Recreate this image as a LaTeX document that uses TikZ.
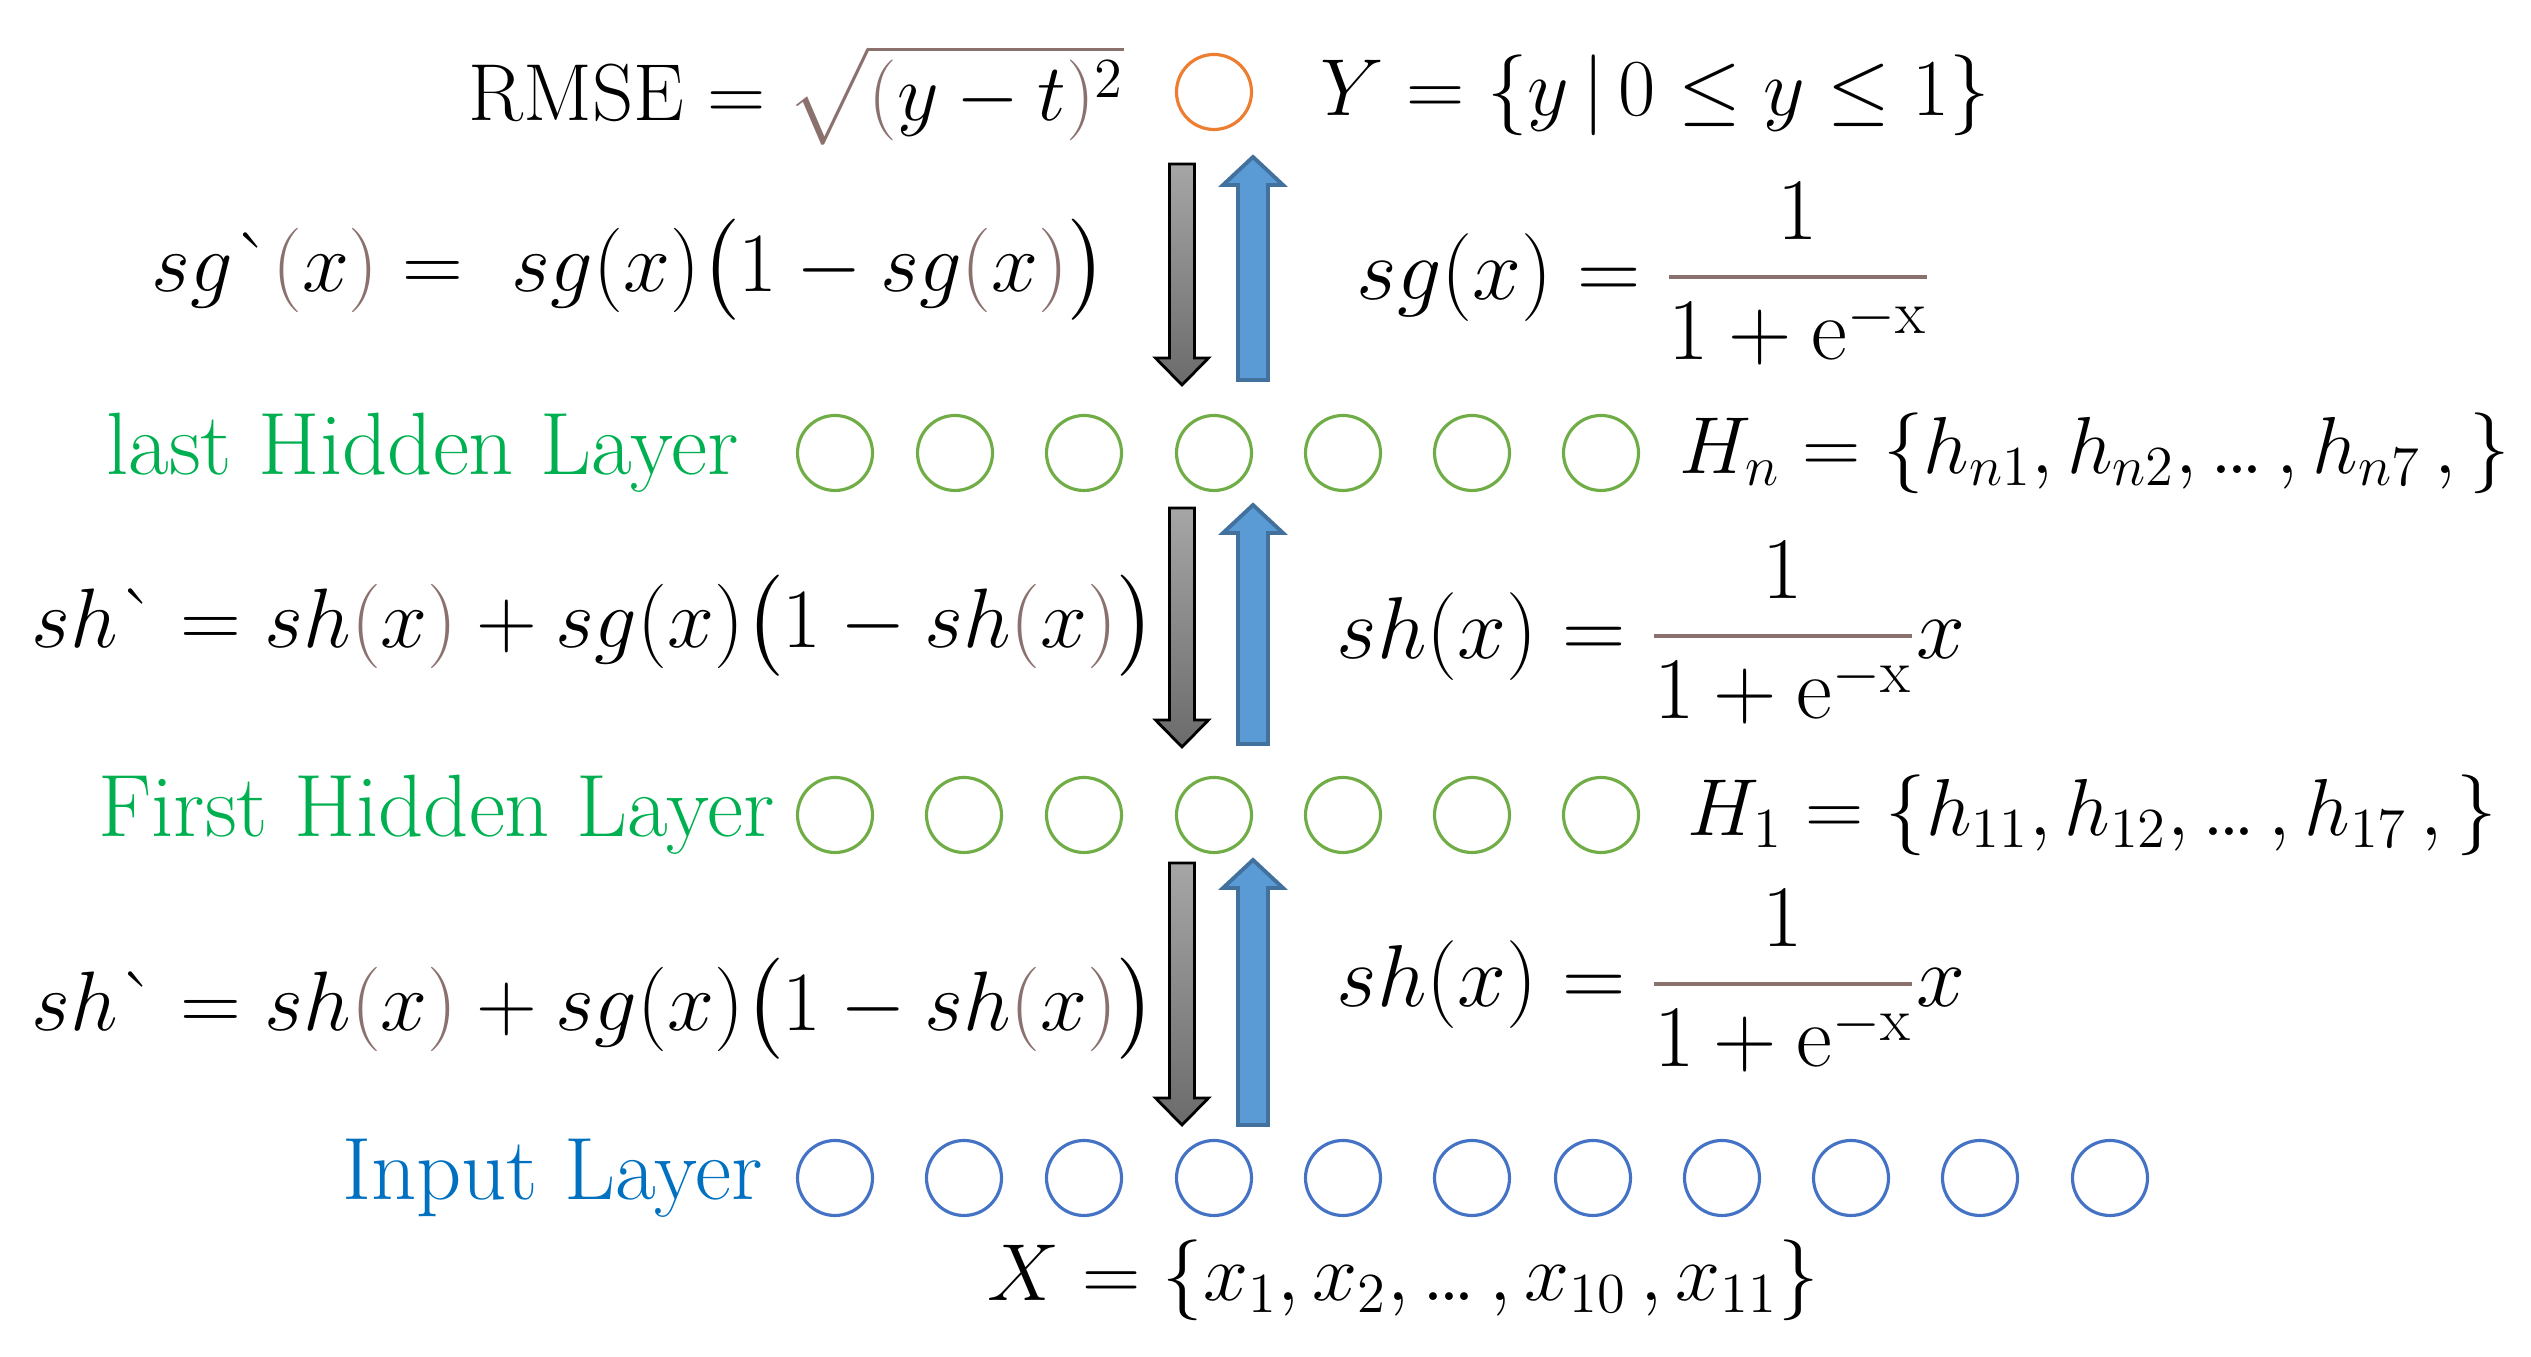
\RequirePackage{fix-cm}
\documentclass[tikz,border=0pt]{standalone}
\usepackage{amsmath,amssymb}
\usepackage{tikz}
\usepackage{xcolor}
\definecolor{brownish}{HTML}{8B716D}
\definecolor{layergreen}{HTML}{00B050}
\definecolor{layerblue}{HTML}{0070C0}
\definecolor{ringgreen}{HTML}{70AD47}
\definecolor{ringblue}{HTML}{4472C4}
\definecolor{ringorange}{HTML}{ED7D31}
\definecolor{arrowblue}{HTML}{5B9BD5}
\definecolor{arrowblueline}{HTML}{41719C}
\newcommand{\bp}[1]{\textcolor{brownish}{(}#1\textcolor{brownish}{)}}
\newcommand{\gv}{\mbox{\`{}}}
\newcommand{\tdots}{\mathinner{.\kern-0.08em.\kern-0.08em.}}
\newcommand{\frc}[2]{\textcolor{brownish}{\dfrac{\textcolor{black}{#1}}{\textcolor{black}{#2}}}}
\tikzset{
  neuron/.style={circle,draw,line width=0.9pt,minimum size=0.75cm,inner sep=0pt},
  formula/.style={font=\fontsize{23}{28}\selectfont,inner sep=0pt},
  bigformula/.style={font=\fontsize{24}{29}\selectfont,inner sep=0pt,anchor=east},
  fracformula/.style={font=\fontsize{25}{30}\selectfont,inner sep=0pt,anchor=west},
  layertext/.style={font=\fontsize{25.2}{30}\selectfont,inner sep=0pt,anchor=east},
}

\begin{document}
\begin{tikzpicture}[x=1cm,y=1cm]
    \path[use as bounding box] (0,0) rectangle (25.31,13.57);
    % output
    \node[neuron,draw=ringorange] (out) at (12.14,12.65) {};
    \node[formula,anchor=east] (rmse) at (11.25,12.62)
      {$\mathrm{RMSE} = \textcolor{brownish}{\sqrt{(\textcolor{black}{y-t})^{\textcolor{black}{2}}}}$};
    \node[formula,anchor=west] (yset) at (13.20,12.62)
      {$Y = \{y \,|\, 0 \leq y \leq 1\}$};
    % last hidden layer
    \foreach \x [count=\i] in {8.35,9.55,10.84,12.14,13.43,14.72,16.01}
      \node[neuron,draw=ringgreen] (hn\i) at (\x,9.04) {};
    \node[layertext,text=layergreen] (lastlbl) at (7.39,9.04) {last Hidden Layer};
    \node[formula,anchor=west] (hnset) at (16.79,9.04)
      {$H_n = \{h_{n1}, h_{n2}, \tdots, h_{n7}\,,\}$};
    % first hidden layer
    \foreach \x [count=\i] in {8.35,9.64,10.84,12.14,13.43,14.72,16.01}
      \node[neuron,draw=ringgreen] (ha\i) at (\x,5.42) {};
    \node[layertext,text=layergreen] (firstlbl) at (7.75,5.42) {First Hidden Layer};
    \node[formula,anchor=west] (haset) at (16.87,5.42)
      {$H_1 = \{h_{11}, h_{12}, \tdots, h_{17}\,,\}$};
    % input layer
    \foreach \x [count=\i] in {8.35,9.64,10.84,12.14,13.43,14.72,15.93,17.22,18.51,19.80,21.10}
      \node[neuron,draw=ringblue] (in\i) at (\x,1.79) {};
    \node[layertext,text=layerblue] (inlbl) at (7.63,1.79) {Input Layer};
    \node[formula] (xset) at (14.03,0.77)
      {$X = \{x_1, x_2, \tdots, x_{10}\,, x_{11}\}$};
    % arrows between layers
    \foreach \gt/\gb/\bt/\bb in {11.93/9.72/12.00/9.77, 8.49/6.10/8.52/6.13, 4.94/2.32/4.97/2.32} {
      \draw[line width=0.8pt,draw=black,top color=black!35,bottom color=black!58]
        (11.695,\gt) -- (11.945,\gt) -- (11.945,{\gb+0.27}) -- (12.085,{\gb+0.27})
        -- (11.82,\gb) -- (11.555,{\gb+0.27}) -- (11.695,{\gb+0.27}) -- cycle;
      \draw[line width=1.1pt,draw=arrowblueline,fill=arrowblue]
        (12.38,\bb) -- (12.68,\bb) -- (12.68,{\bt-0.28}) -- (12.83,{\bt-0.28})
        -- (12.53,\bt) -- (12.23,{\bt-0.28}) -- (12.38,{\bt-0.28}) -- cycle;
    }
    % formulas
    \node[bigformula] (dsg) at (11.08,10.87)
      {$sg\gv\bp{x} = \ sg(x)\bigl(1 - sg\bp{x}\bigr)$};
    \node[fracformula] (sg) at (13.56,10.83)
      {$sg(x) = \frc{1}{1+\mathrm{e}^{-\mathrm{x}}}$};
    \node[bigformula] (dsha) at (11.57,7.31)
      {$sh\gv = sh\bp{x} + sg(x)\bigl(1 - sh\bp{x}\bigr)$};
    \node[fracformula] (sha) at (13.36,7.24)
      {$sh(x) = \frc{1}{1+\mathrm{e}^{-\mathrm{x}}}x$};
    \node[bigformula] (dshb) at (11.57,3.48)
      {$sh\gv = sh\bp{x} + sg(x)\bigl(1 - sh\bp{x}\bigr)$};
    \node[fracformula] (shb) at (13.36,3.76)
      {$sh(x) = \frc{1}{1+\mathrm{e}^{-\mathrm{x}}}x$};
\end{tikzpicture}
\end{document}
